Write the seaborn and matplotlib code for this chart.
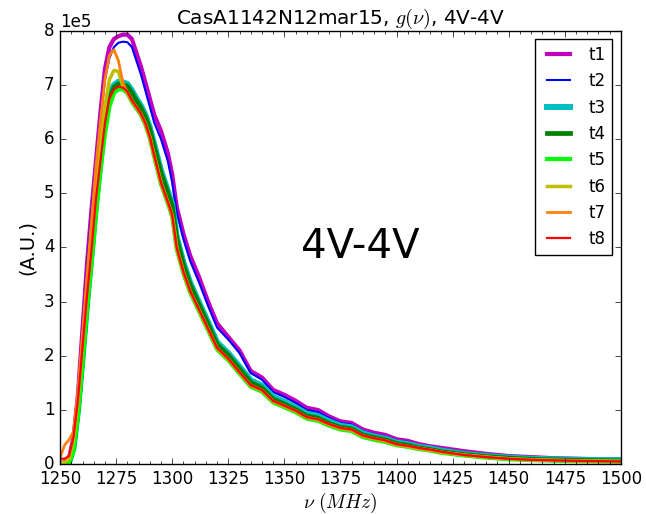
import matplotlib
matplotlib.use("Agg")
import matplotlib.pyplot as plt
from matplotlib.ticker import AutoMinorLocator, MultipleLocator
import seaborn as sns
import pandas as pd

plt.style.use("classic")

freq = [1250, 1252, 1254, 1256, 1258, 1260, 1262, 1264, 1266, 1268, 1270, 1272,
        1274, 1276, 1278, 1280, 1282, 1284, 1286, 1288, 1290, 1292, 1295, 1298,
        1300, 1302, 1305, 1308, 1312, 1316, 1320, 1325, 1330, 1335, 1340, 1345,
        1350, 1355, 1360, 1365, 1370, 1375, 1380, 1385, 1390, 1395, 1400, 1405,
        1410, 1415, 1420, 1430, 1440, 1450, 1460, 1470, 1480, 1490, 1500]

# values in units of 1e5
t1 = [0.03, 0.03, 0.12, 0.50, 1.30, 2.50, 3.70, 4.70, 5.60, 6.50, 7.30, 7.70,
      7.85, 7.90, 7.93, 7.93, 7.85, 7.60, 7.35, 7.05, 6.75, 6.45, 6.15, 5.75,
      5.35, 4.75, 4.25, 3.85, 3.45, 3.00, 2.60, 2.35, 2.10, 1.72, 1.60, 1.37,
      1.28, 1.17, 1.04, 1.00, 0.88, 0.79, 0.76, 0.64, 0.58, 0.54, 0.46, 0.43,
      0.37, 0.33, 0.30, 0.24, 0.19, 0.15, 0.13, 0.11, 0.10, 0.09, 0.085]
t2 = [0.00, 0.00, 0.08, 0.45, 1.25, 2.45, 3.65, 4.65, 5.55, 6.40, 7.10, 7.50,
      7.70, 7.78, 7.80, 7.79, 7.70, 7.45, 7.20, 6.90, 6.60, 6.30, 6.00, 5.60,
      5.20, 4.65, 4.15, 3.75, 3.35, 2.92, 2.52, 2.30, 2.05, 1.68, 1.56, 1.33,
      1.24, 1.13, 1.00, 0.96, 0.85, 0.76, 0.73, 0.61, 0.55, 0.51, 0.43, 0.41,
      0.35, 0.31, 0.28, 0.22, 0.17, 0.13, 0.11, 0.095, 0.085, 0.08, 0.075]
t3 = [0.00, 0.00, 0.03, 0.30, 1.00, 1.95, 2.95, 3.85, 4.80, 5.60, 6.35, 6.80,
      7.00, 7.06, 7.05, 7.02, 6.90, 6.75, 6.62, 6.45, 6.22, 5.90, 5.42, 5.05,
      4.80, 4.20, 3.72, 3.35, 2.98, 2.62, 2.25, 2.05, 1.80, 1.55, 1.45, 1.24,
      1.15, 1.05, 0.93, 0.89, 0.79, 0.71, 0.68, 0.57, 0.51, 0.47, 0.40, 0.37,
      0.32, 0.29, 0.25, 0.19, 0.15, 0.12, 0.10, 0.09, 0.08, 0.075, 0.07]
t4 = [0.00, 0.00, 0.02, 0.28, 0.97, 1.92, 2.92, 3.82, 4.76, 5.56, 6.30, 6.75,
      6.96, 7.02, 7.01, 6.98, 6.86, 6.71, 6.58, 6.41, 6.18, 5.86, 5.38, 5.01,
      4.76, 4.16, 3.68, 3.31, 2.94, 2.58, 2.21, 2.01, 1.76, 1.51, 1.41, 1.20,
      1.11, 1.01, 0.89, 0.85, 0.75, 0.68, 0.65, 0.54, 0.49, 0.45, 0.38, 0.35,
      0.30, 0.27, 0.23, 0.18, 0.14, 0.11, 0.09, 0.08, 0.07, 0.065, 0.06]
t5 = [0.00, 0.00, 0.02, 0.25, 0.90, 1.85, 2.85, 3.70, 4.60, 5.40, 6.10, 6.60,
      6.85, 6.92, 6.92, 6.85, 6.69, 6.57, 6.45, 6.27, 6.02, 5.67, 5.17, 4.82,
      4.57, 3.97, 3.52, 3.17, 2.82, 2.47, 2.12, 1.92, 1.67, 1.43, 1.34, 1.14,
      1.05, 0.96, 0.84, 0.80, 0.71, 0.64, 0.61, 0.50, 0.45, 0.41, 0.35, 0.32,
      0.28, 0.25, 0.21, 0.16, 0.12, 0.09, 0.075, 0.065, 0.055, 0.05, 0.05]
t6 = [0.02, 0.03, 0.10, 0.45, 1.20, 2.20, 3.20, 4.10, 5.00, 5.90, 6.60, 7.10,
      7.27, 7.25, 6.97, 6.86, 6.71, 6.59, 6.47, 6.29, 6.04, 5.69, 5.19, 4.84,
      4.59, 3.99, 3.54, 3.19, 2.84, 2.49, 2.14, 1.94, 1.69, 1.45, 1.36, 1.16,
      1.07, 0.98, 0.86, 0.82, 0.73, 0.66, 0.63, 0.52, 0.47, 0.43, 0.36, 0.33,
      0.29, 0.26, 0.22, 0.17, 0.13, 0.10, 0.08, 0.07, 0.06, 0.055, 0.05]
t7 = [0.12, 0.35, 0.45, 0.60, 1.35, 2.40, 3.50, 4.50, 5.50, 6.35, 7.10, 7.55,
      7.65, 7.45, 7.05, 6.85, 6.70, 6.58, 6.45, 6.28, 6.02, 5.68, 5.18, 4.83,
      4.58, 3.99, 3.54, 3.19, 2.84, 2.49, 2.14, 1.94, 1.69, 1.45, 1.36, 1.16,
      1.07, 0.98, 0.86, 0.82, 0.73, 0.66, 0.63, 0.52, 0.47, 0.43, 0.36, 0.33,
      0.29, 0.26, 0.22, 0.17, 0.13, 0.10, 0.08, 0.07, 0.06, 0.055, 0.05]
t8 = [0.10, 0.10, 0.15, 0.50, 1.20, 2.15, 3.10, 3.95, 4.90, 5.60, 6.30, 6.75,
      6.92, 6.97, 6.95, 6.88, 6.72, 6.60, 6.48, 6.30, 6.05, 5.70, 5.20, 4.85,
      4.60, 4.00, 3.55, 3.20, 2.85, 2.50, 2.15, 1.95, 1.70, 1.46, 1.37, 1.17,
      1.08, 0.99, 0.87, 0.83, 0.74, 0.67, 0.64, 0.53, 0.48, 0.44, 0.37, 0.34,
      0.30, 0.27, 0.23, 0.17, 0.13, 0.10, 0.08, 0.07, 0.06, 0.055, 0.05]

names = ["t1", "t2", "t3", "t4", "t5", "t6", "t7", "t8"]
series = [t1, t2, t3, t4, t5, t6, t7, t8]
colors = ["m", "b", "c", "g", "lime", "y", "#ff7f0e", "r"]
widths = [3.0, 1.5, 4.3, 3.4, 3.0, 2.5, 2.0, 1.6]

fig = plt.figure(figsize=(6.46, 5.14), dpi=100, facecolor="white")
ax = fig.add_axes([0.093, 0.097, 0.868, 0.843])
ax.set_facecolor("white")

for name, vals, c, lw in zip(names, series, colors, widths):
    df = pd.DataFrame({"freq": freq, "g": [v * 1e5 for v in vals]})
    sns.lineplot(data=df, x="freq", y="g", color=c, linewidth=lw, label=name, ax=ax)

ax.set_xlim(1250, 1500)
ax.set_ylim(0, 8e5)
ax.xaxis.set_major_locator(MultipleLocator(25))
ax.xaxis.set_minor_locator(AutoMinorLocator(5))
ax.yaxis.set_major_locator(MultipleLocator(1e5))
ax.ticklabel_format(axis="y", style="sci", scilimits=(0, 0))
ax.tick_params(labelsize=12)
ax.yaxis.get_offset_text().set_fontsize(12)

ax.set_title(r"CasA1142N12mar15, $g(\nu)$, 4V-4V", fontsize=14.4)
ax.set_xlabel(r"$\nu\ (MHz)$", fontsize=14, labelpad=2)
ax.set_ylabel("(A.U.)", fontsize=14)
ax.text(1384, 4.0e5, "4V-4V", fontsize=29, ha="center", va="center")

leg = ax.legend(loc="upper right", fontsize=12)
leg.get_frame().set_facecolor("white")

fig.savefig("out.png", dpi=100, facecolor="white")
